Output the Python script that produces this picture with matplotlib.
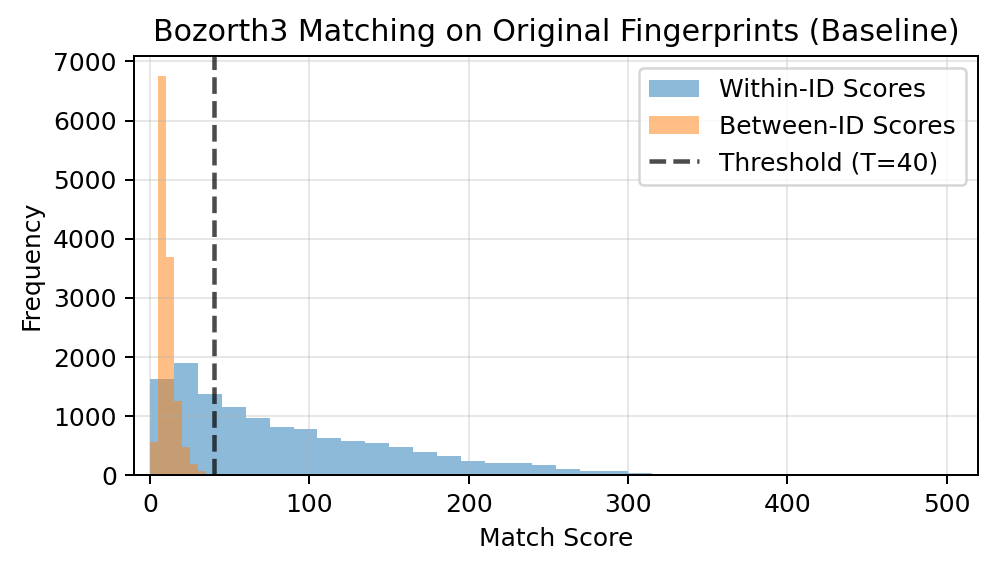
import numpy as np
import matplotlib
matplotlib.use("Agg")
import matplotlib.pyplot as plt

# bin edges (width 15 for within-ID, 5 for between-ID)
within_edges = np.arange(0, 451, 15)
within_counts = [1624, 1895, 1381, 1154, 968, 815, 788, 629, 578, 539,
                 483, 386, 330, 234, 200, 200, 171, 110, 81, 81,
                 47, 28, 26, 25, 24, 22, 2, 22, 0, 0]

between_edges = np.arange(0, 51, 5)
between_counts = [570, 6760, 3690, 1256, 480, 183, 81, 30, 8, 28]

threshold = 40

DPI = 180
fig = plt.figure(figsize=(997 / DPI, 571 / DPI), dpi=DPI)
ax = fig.add_axes([0.1347, 0.1676, 0.9813 - 0.1347, 0.9025 - 0.1676])

w_centers = (within_edges[:-1] + within_edges[1:]) / 2
b_centers = (between_edges[:-1] + between_edges[1:]) / 2

ax.hist(w_centers, bins=within_edges, weights=within_counts, alpha=0.5,
        label="Within-ID Scores")
ax.hist(b_centers, bins=between_edges, weights=between_counts, alpha=0.5,
        label="Between-ID Scores")
ax.axvline(threshold, color="k", linestyle="--", linewidth=1.8, alpha=0.7,
           label=f"Threshold (T={threshold})")

ax.set_xlim(-10, 520)
ax.set_xlabel("Match Score")
ax.set_ylabel("Frequency")
ax.set_title("Bozorth3 Matching on Original Fingerprints (Baseline)")
ax.legend(loc="upper right")
ax.grid(True, alpha=0.3)

fig.savefig("out.png", dpi=DPI)
